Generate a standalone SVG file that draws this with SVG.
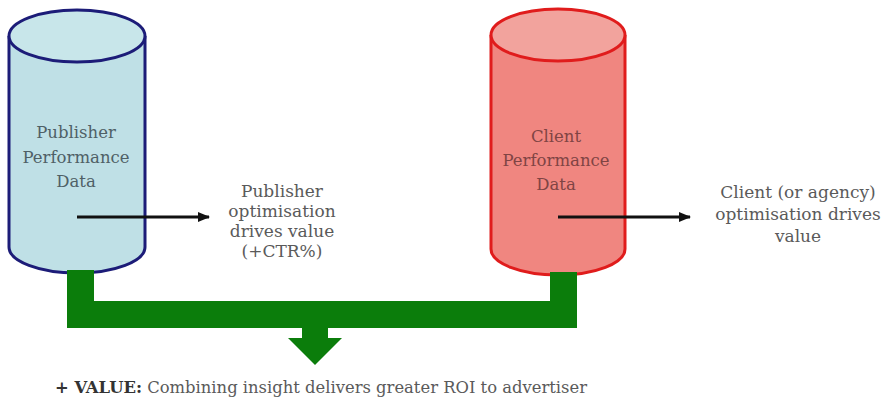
<svg xmlns="http://www.w3.org/2000/svg" width="885" height="404" viewBox="0 0 885 404">
<defs>
<marker id="ah" markerWidth="12" markerHeight="12" refX="11" refY="6" orient="auto" markerUnits="userSpaceOnUse">
<path d="M0,1 L12,6 L0,11 Z" fill="#111"/>
</marker>
</defs>
<style>
.lbl{font-family:"DejaVu Serif","Liberation Serif",serif;font-size:17px;fill:#5a5a5a;text-anchor:middle}
.cyl{font-family:"DejaVu Serif","Liberation Serif",serif;font-size:16.5px;text-anchor:middle}
.bot{font-family:"DejaVu Serif","Liberation Serif",serif;font-size:16px;fill:#5a5a5a}
.arrow{stroke:#111;stroke-width:3;fill:none}
.green{fill:#0b7d0b}
</style>
<rect width="885" height="404" fill="#fff"/>
<g id="publisher-data">
<path d="M9,36 L9,247 A68,26 0 0 0 145,247 L145,36" fill="#bfe0e6" stroke="#1c1c78" stroke-width="3"/>
<ellipse cx="77" cy="36" rx="68" ry="26" fill="#c8e6ea" stroke="#1c1c78" stroke-width="3"/>
<text class="cyl" fill="#4f6066"><tspan x="76" y="138">Publisher</tspan><tspan x="76" y="163">Performance</tspan><tspan x="76" y="187">Data</tspan></text>
</g>
<g id="client-data">
<path d="M491,35 L491,249 A67,26 0 0 0 625,249 L625,35" fill="#f08680" stroke="#e01c1c" stroke-width="3"/>
<ellipse cx="558" cy="35" rx="67" ry="26" fill="#f2a39d" stroke="#e01c1c" stroke-width="3"/>
<text class="cyl" fill="#804444"><tspan x="556" y="142">Client</tspan><tspan x="556" y="166">Performance</tspan><tspan x="556" y="190">Data</tspan></text>
</g>
<g id="publisher-label">
<text class="lbl"><tspan x="282" y="197">Publisher</tspan><tspan x="282" y="217">optimisation</tspan><tspan x="282" y="237">drives value</tspan><tspan x="282" y="257">(+CTR%)</tspan></text>
</g>
<g id="client-label">
<text class="lbl"><tspan x="798" y="198">Client (or agency)</tspan><tspan x="798" y="220">optimisation drives</tspan><tspan x="798" y="242">value</tspan></text>
</g>
<g id="value-label">
<text class="bot" x="55" y="393" textLength="532" lengthAdjust="spacingAndGlyphs"><tspan font-weight="bold" fill="#333">+ VALUE:</tspan> Combining insight delivers greater ROI to advertiser</text>
</g>
<g id="connectors">
<path class="green" d="M67,270 L94,270 L94,301 L550,301 L550,272 L577,272 L577,328 L328,328 L328,338 L342,338 L315,365 L288,338 L302,338 L302,328 L67,328 Z"/>
<line class="arrow" x1="77" y1="217" x2="209" y2="217" marker-end="url(#ah)"/>
<line class="arrow" x1="558" y1="217" x2="690" y2="217" marker-end="url(#ah)"/>
</g>
</svg>
